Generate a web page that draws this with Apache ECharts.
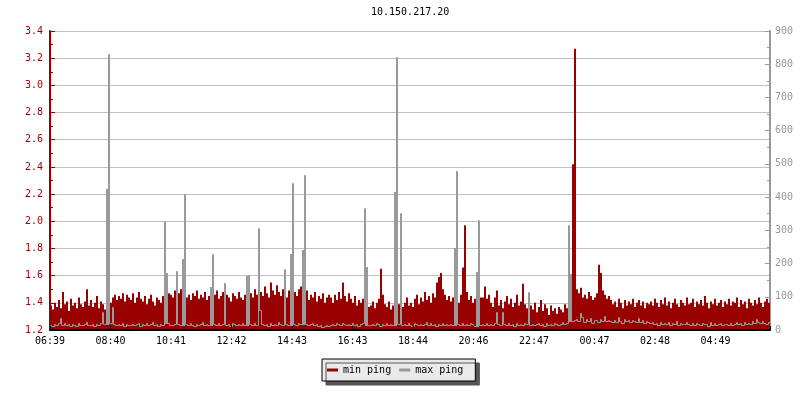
<!DOCTYPE html>
<html>
<head>
<meta charset="utf-8">
<script src="https://cdn.jsdelivr.net/npm/echarts@6/dist/echarts.min.js"></script>
<style>html,body{margin:0;padding:0;background:#fff}#c{width:800px;height:400px}</style>
</head>
<body>
<div id="c"></div>
<script>
const chartTitle = '10.150.217.20';
const seriesNames = ['min ping', 'max ping'];
const tickLabels = ['06:39','08:40','10:41','12:42','14:43','16:43','18:44','20:46','22:47','00:47','02:48','04:49'];
const tickStepMinutes = 121;
const sampleMinutes = 4;
const spanMinutes = 1440;

const minPing = [
1.38,1.35,1.40,1.37,1.42,1.36,1.48,1.39,1.41,1.34,1.43,1.38,1.40,1.36,1.44,1.39,1.37,1.41,1.50,1.38,
1.42,1.37,1.40,1.45,1.36,1.41,1.39,1.35,1.38,1.37,1.40,1.44,1.46,1.42,1.45,1.43,1.47,1.41,1.46,1.44,
1.42,1.47,1.40,1.44,1.48,1.43,1.41,1.45,1.39,1.43,1.46,1.41,1.38,1.44,1.42,1.40,1.45,1.43,1.39,1.47,
1.46,1.44,1.49,1.43,1.47,1.50,1.45,1.48,1.44,1.46,1.42,1.47,1.45,1.49,1.43,1.46,1.44,1.48,1.42,1.45,
1.47,1.44,1.46,1.49,1.43,1.45,1.48,1.42,1.46,1.44,1.41,1.47,1.45,1.43,1.48,1.44,1.42,1.46,1.49,1.45,
1.47,1.44,1.50,1.46,1.43,1.48,1.45,1.52,1.47,1.44,1.55,1.49,1.46,1.53,1.48,1.45,1.50,1.46,1.44,1.49,
1.46,1.43,1.48,1.45,1.50,1.52,1.47,1.44,1.49,1.42,1.46,1.44,1.48,1.41,1.45,1.43,1.47,1.40,1.44,1.46,
1.44,1.40,1.46,1.42,1.48,1.43,1.55,1.45,1.41,1.47,1.43,1.40,1.45,1.38,1.42,1.40,1.43,1.39,1.41,1.37,
1.38,1.41,1.36,1.40,1.43,1.65,1.46,1.39,1.37,1.41,1.35,1.38,1.40,1.36,1.39,1.42,1.37,1.40,1.44,1.38,
1.40,1.37,1.43,1.46,1.39,1.44,1.41,1.48,1.42,1.45,1.40,1.47,1.44,1.55,1.59,1.62,1.50,1.46,1.42,1.45,
1.41,1.44,1.39,1.43,1.40,1.46,1.66,1.97,1.48,1.42,1.45,1.40,1.43,1.47,1.41,1.44,1.44,1.52,1.43,1.46,
1.40,1.37,1.44,1.49,1.38,1.42,1.36,1.41,1.45,1.39,1.43,1.37,1.40,1.46,1.38,1.41,1.54,1.39,1.36,1.42,
1.38,1.35,1.40,1.33,1.37,1.42,1.34,1.39,1.36,1.31,1.38,1.34,1.36,1.32,1.37,1.35,1.33,1.39,1.36,1.34,
1.45,2.42,3.27,1.50,1.47,1.51,1.44,1.46,1.43,1.48,1.45,1.42,1.44,1.47,1.68,1.62,1.49,1.46,1.43,1.45,
1.42,1.39,1.41,1.37,1.43,1.40,1.36,1.42,1.38,1.41,1.39,1.43,1.37,1.40,1.42,1.38,1.41,1.36,1.40,1.39,
1.41,1.38,1.43,1.40,1.37,1.42,1.39,1.44,1.38,1.41,1.36,1.40,1.43,1.39,1.37,1.42,1.40,1.38,1.44,1.39,
1.40,1.43,1.37,1.41,1.39,1.42,1.38,1.45,1.40,1.36,1.41,1.39,1.43,1.38,1.40,1.42,1.37,1.41,1.39,1.43,
1.38,1.41,1.40,1.44,1.37,1.42,1.39,1.41,1.36,1.43,1.40,1.38,1.42,1.39,1.44,1.40,1.37,1.41,1.43,1.40
];

const maxPing = [
15,12,18,14,20,35,16,22,14,17,12,19,15,13,21,16,14,18,24,15,
14,17,13,19,16,22,54,18,425,830,20,69,17,14,19,15,21,13,18,16,
15,19,14,17,22,13,18,16,20,14,17,25,15,19,13,18,16,328,172,20,
16,14,19,178,17,15,214,410,18,14,21,16,13,19,15,17,24,14,18,16,
130,229,17,14,20,16,19,141,15,18,13,21,17,14,19,16,22,15,163,166,
18,14,20,16,307,60,17,15,19,13,21,16,18,14,23,17,15,184,19,16,
229,442,18,15,20,17,241,467,19,14,17,22,15,18,13,16,10,12,14,11,
16,19,14,20,17,15,22,18,14,19,16,21,15,18,13,17,20,367,190,16,
14,18,15,21,17,13,19,16,22,15,18,14,415,822,17,352,15,19,14,20,
16,13,21,17,15,19,14,18,24,16,20,15,17,13,19,16,22,14,18,15,
17,14,247,479,19,16,21,15,18,14,20,17,13,175,331,16,19,15,22,14,
18,15,20,54,17,14,54,19,16,21,15,18,13,20,16,19,14,22,17,114,
16,19,14,18,21,15,17,13,20,16,18,14,22,17,15,19,24,18,21,316,
169,26,30,34,28,51,38,24,32,27,35,22,30,29,25,33,28,42,26,31,
27,23,30,25,39,28,22,32,26,29,24,31,27,23,36,25,29,22,28,24,
20,25,18,22,16,24,19,21,17,23,15,20,18,26,16,21,19,17,23,18,
16,20,14,22,18,15,21,17,19,13,24,16,20,15,18,22,14,19,17,16,
20,15,18,23,17,21,16,25,19,22,18,27,21,33,24,20,26,22,19,23
];

// sample slots (minutes since 06:39), one category per 4-minute sample
const sampleSlots = minPing.map((_, i) => String(i * sampleMinutes));

const FONT = 'DejaVu Sans Mono';
const RED = '#990000';
const GRAY = '#999999';

// [slot index, value, previous value, next value] so each step is drawn through the axes
const maxStepData = maxPing.map((v, i) => [
  i, v,
  i > 0 ? maxPing[i - 1] : v,
  i < maxPing.length - 1 ? maxPing[i + 1] : v
]);

function renderStep(params, api) {
  const i = api.value(0);
  const v = api.value(1), prev = api.value(2), next = api.value(3);
  const p = api.coord([i, v]);
  const q = api.coord([i, prev]);
  const r = api.coord([i, next]);
  const w = api.size([1, 0])[0];
  const c = Math.round(p[0] - w / 2);
  const n = Math.round(p[0] + w / 2);
  // rising edges sit in this slot's first column, falling edges in the previous slot's last column
  const s = v >= prev ? c : c - 1;
  const e = next >= v ? n : n - 1;
  const y1 = Math.round(p[1]) + 0.5;
  const y0 = Math.round(q[1]) + 0.5;
  const children = [];
  let fillBottom = null;
  if (v > prev + 50 && next > v) fillBottom = Math.round(q[1]);       // lower step before a higher one
  else if (v > next + 50 && prev > v) fillBottom = Math.round(r[1]);  // lower step after a higher one
  if (fillBottom !== null) {
    children.push({
      type: 'rect',
      shape: {x: s, y: Math.round(p[1]), width: e - s + 1, height: fillBottom - Math.round(p[1]) + 1},
      style: {fill: GRAY}
    });
  }
  children.push({
    type: 'polyline',
    shape: {points: [[s + 0.5, y0], [s + 0.5, y1], [e + 0.5, y1]]},
    style: {stroke: GRAY, lineWidth: 1, fill: null}
  });
  return {type: 'group', children: children};
}

const chart = echarts.init(document.getElementById('c'), null, {renderer: 'canvas'});
chart.setOption({
  animation: false,
  backgroundColor: '#ffffff',
  title: {
    text: chartTitle,
    left: 371, top: 7, padding: 0,
    textStyle: {fontFamily: FONT, fontSize: 10, fontWeight: 'normal', color: '#000'}
  },
  legend: {
    data: seriesNames,
    left: 322, top: 359,
    padding: [6, 12, 6, 5],
    itemGap: 8,
    itemWidth: 11, itemHeight: 3,
    icon: 'rect',
    backgroundColor: '#eaeaea',
    borderColor: '#000', borderWidth: 1,
    shadowColor: '#555555', shadowBlur: 0, shadowOffsetX: 4, shadowOffsetY: 4,
    textStyle: {fontFamily: FONT, fontSize: 10, color: '#000'}
  },
  grid: {left: 50, right: 30, top: 31, bottom: 70},
  xAxis: [{
    type: 'value', min: 0, max: spanMinutes, interval: tickStepMinutes,
    axisLine: {lineStyle: {color: '#000', width: 2}},
    axisTick: {inside: true, length: 4, lineStyle: {color: '#000', width: 1}},
    axisLabel: {
      fontFamily: FONT, fontSize: 10, color: '#000', margin: 6,
      formatter: v => {
        const k = Math.round(v / tickStepMinutes);
        return (Math.abs(k * tickStepMinutes - v) < 1e-6 && tickLabels[k]) ? tickLabels[k] : '';
      }
    },
    splitLine: {show: false},
    z: 5
  }, {
    type: 'category', data: sampleSlots, boundaryGap: true, show: false,
    axisLine: {show: false}, axisTick: {show: false}, axisLabel: {show: false}
  }],
  yAxis: [{
    type: 'value', min: 1.2, max: 3.4, interval: 0.2, position: 'left',
    axisLine: {show: true, lineStyle: {color: RED, width: 2}},
    axisTick: {show: true, inside: true, length: 5, lineStyle: {color: RED}},
    minorTick: {show: true, splitNumber: 2, length: 3, lineStyle: {color: RED}},
    axisLabel: {fontFamily: FONT, fontSize: 10, color: RED, margin: 7, formatter: v => v.toFixed(1)},
    splitLine: {show: true, lineStyle: {color: '#c0c0c0', width: 1}}
  }, {
    type: 'value', min: 0, max: 900, interval: 100, position: 'right',
    axisLine: {show: true, lineStyle: {color: GRAY, width: 2}},
    axisTick: {show: true, inside: true, length: 5, lineStyle: {color: GRAY}},
    minorTick: {show: true, splitNumber: 2, length: 3, lineStyle: {color: GRAY}},
    axisLabel: {fontFamily: FONT, fontSize: 10, color: GRAY, margin: 5},
    splitLine: {show: false}
  }],
  series: [{
    name: seriesNames[0], type: 'bar', xAxisIndex: 1, yAxisIndex: 0,
    data: minPing,
    barWidth: '100%', barCategoryGap: '0%',
    itemStyle: {color: RED, borderWidth: 0},
    z: 2
  }, {
    name: seriesNames[1], type: 'custom', xAxisIndex: 1, yAxisIndex: 1,
    data: maxStepData,
    encode: {x: 0, y: 1},
    renderItem: renderStep,
    itemStyle: {color: GRAY},
    clip: true,
    z: 3
  }]
});
</script>
</body>
</html>
